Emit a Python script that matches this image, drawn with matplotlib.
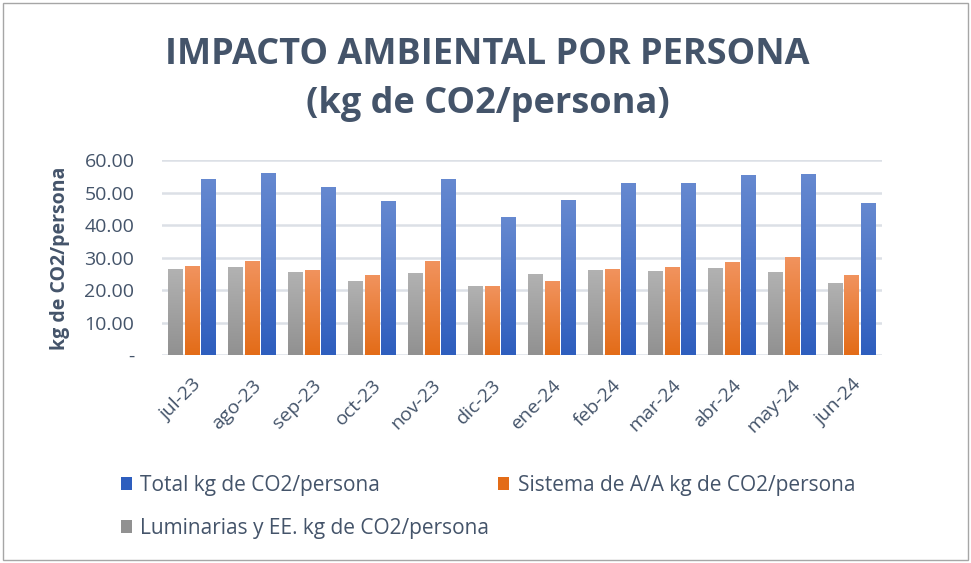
import numpy as np
import matplotlib.pyplot as plt
from matplotlib.patches import Rectangle
from matplotlib.colors import LinearSegmentedColormap

meses = ["jul-23", "ago-23", "sep-23", "oct-23", "nov-23", "dic-23",
         "ene-24", "feb-24", "mar-24", "abr-24", "may-24", "jun-24"]
luminarias = [26.5, 27.1, 25.6, 22.8, 25.3, 21.3, 25.0, 26.2, 25.9, 26.8, 25.6, 22.2]
sistema_aa = [27.4, 29.0, 26.2, 24.7, 29.0, 21.3, 22.8, 26.5, 27.1, 28.7, 30.2, 24.7]
total = [54.3, 56.1, 51.8, 47.5, 54.3, 42.5, 47.8, 53.0, 53.0, 55.5, 55.8, 46.9]
yticks = [0, 10, 20, 30, 40, 50, 60]
ytick_labels = ["-", "10.00", "20.00", "30.00", "40.00", "50.00", "60.00"]

plt.rcParams['font.family'] = ['Open Sans', 'DejaVu Sans']
txt = "#44546A"

fig = plt.figure(figsize=(9.71, 5.63), dpi=100)
ax = fig.add_axes([0.167, 0.369, 0.741, 0.346])

x = np.arange(len(meses))
w = 0.24
series = [
    (luminarias, -0.275, "#B2B2B2", "#919191", "Luminarias y EE. kg de CO2/persona"),
    (sistema_aa, 0.0, "#F1935E", "#E36C18", "Sistema de A/A kg de CO2/persona"),
    (total, 0.275, "#6689D0", "#2E5EBE", "Total kg de CO2/persona"),
]
handles = {}
grad = np.linspace(1, 0, 100).reshape(-1, 1)
for vals, off, top, bot, lab in series:
    bars = ax.bar(x + off, vals, w, color=bot, label=lab, zorder=2)
    handles[lab] = bars
    cmap = LinearSegmentedColormap.from_list("g", [bot, top])
    for b in bars:
        bx, by = b.get_x(), b.get_y()
        im = ax.imshow(grad, cmap=cmap, aspect="auto", zorder=3,
                       extent=[bx, bx + b.get_width(), by, by + b.get_height()])
        im.set_clip_path(b)

ax.set_xlim(-0.5, len(meses) - 0.5)
ax.set_ylim(0, 60)
ax.set_yticks(yticks)
ax.set_yticklabels(ytick_labels)
ax.yaxis.grid(True, color="#DCE0E6", linewidth=1.8, zorder=0)
ax.set_axisbelow(True)
for s in ax.spines.values():
    s.set_visible(False)
ax.tick_params(axis="both", length=0, labelsize=14, colors=txt)
ax.tick_params(axis="y", pad=20)
ax.tick_params(axis="x", pad=15)
ax.set_xticks(x)
ax.set_xticklabels(meses, rotation=45, ha="right", rotation_mode="anchor")
ax.set_ylabel("kg de CO2/persona", fontsize=14, fontweight="bold", color=txt, labelpad=10)

fig.text(0.502, 0.903, "IMPACTO AMBIENTAL POR PERSONA", ha="center", va="center",
         fontsize=26, fontweight="bold", color=txt)
fig.text(0.502, 0.815, "(kg de CO2/persona)", ha="center", va="center",
         fontsize=26, fontweight="bold", color=txt)

order = ["Total kg de CO2/persona", "Luminarias y EE. kg de CO2/persona",
         "Sistema de A/A kg de CO2/persona"]
leg = fig.legend([handles[k] for k in order], order, loc="upper left",
                 bbox_to_anchor=(0.105, 0.19), ncol=2, frameon=False,
                 fontsize=15, labelcolor=txt, handlelength=0.55, handleheight=0.55,
                 handletextpad=0.4, columnspacing=0.4, labelspacing=1.05)

fig.patches.append(Rectangle((0.003, 0.005), 0.994, 0.99, transform=fig.transFigure,
                             fill=False, edgecolor="#A6A6A6", linewidth=1))

fig.savefig("out.png", dpi=100)
